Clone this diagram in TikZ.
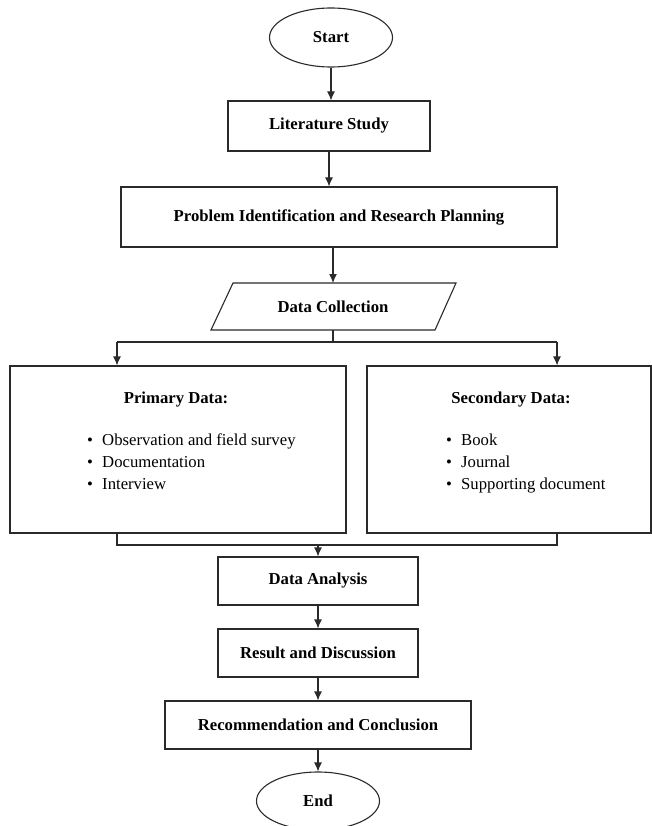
\documentclass[tikz,border=0pt]{standalone}
\usepackage{fontspec}
\setmainfont{Liberation Serif}
\usetikzlibrary{arrows.meta,shapes.geometric}
\definecolor{ln}{HTML}{2A2A2A}
\tikzset{
  box/.style={draw=ln, line width=1.1pt, rectangle, inner sep=0pt, font=\bfseries},
  oval/.style={draw=ln, line width=1.1pt, ellipse, inner sep=0pt, font=\bfseries},
  arr/.style={draw=ln, line width=1.1pt, -{Latex[length=9pt,width=8pt]}},
  ln/.style={draw=ln, line width=1.1pt},
  item/.style={anchor=base west, inner sep=0pt},
  head/.style={inner sep=0pt, font=\bfseries}
}
\newcommand{\bul}{\makebox[16pt][l]{\hspace{1pt}•}}
\begin{document}
\begin{tikzpicture}[x=1pt,y=-1pt]
\fontsize{16.7}{22}\selectfont
\useasboundingbox (0,0) rectangle (652,826);
% nodes
\node[oval, minimum width=123, minimum height=59] (start) at (331,37.5) {Start};
\node[box, minimum width=202, minimum height=50] (lit) at (329,126) {Literature Study};
\node[box, minimum width=436, minimum height=60] (prob) at (339,217) {Problem Identification and Research Planning};
% data collection parallelogram
\coordinate (dctop) at (333,283);
\coordinate (dcbot) at (333,330);
\draw[ln] (233,283) -- (456,283) -- (435,330) -- (211,330) -- cycle;
\node[head] (dc) at (333,306.5) {Data Collection};
% split
\coordinate (pl) at (117,342);
\coordinate (pr) at (557,342);
\coordinate (bl) at (117,545);
\coordinate (br) at (557,545);
\node[box, minimum width=336, minimum height=167] (prim) at (178,449.5) {};
\node[box, minimum width=284, minimum height=167] (sec) at (509,449.5) {};
\node[head] (primh) at (176,400) {Primary Data:};
\node[item] (p1) at (86,445) {\bul Observation and field survey};
\node[item] (p2) at (86,467.5) {\bul Documentation};
\node[item] (p3) at (86,489) {\bul Interview};
\node[head] (sech) at (511,400) {Secondary Data:};
\node[item] (s1) at (445,445) {\bul Book};
\node[item] (s2) at (445,467.5) {\bul Journal};
\node[item] (s3) at (445,489) {\bul Supporting document};
\node[box, minimum width=200, minimum height=48] (da) at (318,581) {Data Analysis};
\node[box, minimum width=200, minimum height=48] (rd) at (318,653) {Result and Discussion};
\node[box, minimum width=306, minimum height=48] (rc) at (318,725) {Recommendation and Conclusion};
\node[oval, minimum width=123, minimum height=58] (end) at (318,801) {End};
% connectors
\draw[arr] (start.south) -- (start.south |- lit.north);
\draw[arr] (lit.south) -- (lit.south |- prob.north);
\draw[arr] (prob.south -| dctop) -- (dctop);
\draw[ln] (dcbot) -- (dcbot |- pl);
\draw[ln] (pl) -- (pr);
\draw[arr] (pl) -- (pl |- prim.north);
\draw[arr] (pr) -- (pr |- sec.north);
\draw[ln] (bl |- prim.south) -- (bl) -- (br) -- (br |- sec.south);
\draw[arr] (da.north |- bl) -- (da.north);
\draw[arr] (da.south) -- (rd.north);
\draw[arr] (rd.south) -- (rd.south |- rc.north);
\draw[arr] (rc.south) -- (rc.south |- end.north);
\end{tikzpicture}
\end{document}
